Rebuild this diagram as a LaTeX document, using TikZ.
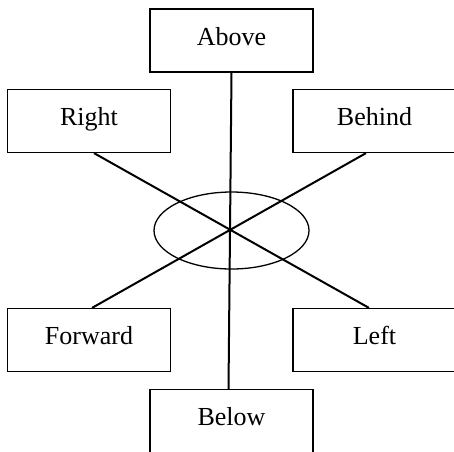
\documentclass[tikz,border=0pt]{standalone}
\usepackage{fontspec}
\setmainfont{Liberation Serif}
\begin{document}
\begin{tikzpicture}[x=1pt,y=-1pt,
  dirbox/.style={draw,line width=1.2pt,rectangle,inner sep=0pt,
    minimum width=163pt,text height=36pt,text depth=27pt,
    font=\fontsize{26}{30}\selectfont},
  axis/.style={line width=2pt}]
\useasboundingbox (0,0) rectangle (454,451);
\clip (0,0) rectangle (454,451);
\node[dirbox] (above) at (231.5,40.5) {Above};
\node[dirbox] (right) at (89,121) {Right};
\node[dirbox] (behind) at (374.5,121) {Behind};
\node[dirbox] (forward) at (89,340) {Forward};
\node[dirbox] (left) at (374.5,340) {Left};
\node[dirbox,text depth=37pt,anchor=north] (below) at (231.5,389) {Below};
\draw[line width=1.3pt] (231.5,230.5) ellipse [x radius=77.5pt, y radius=38.5pt];
\draw[axis] (above.south) -- ([xshift=-3pt]below.north);
\draw[axis] ([xshift=5pt]right.south) -- ([xshift=-5.5pt]left.north);
\draw[axis] ([xshift=-8.5pt]behind.south) -- ([xshift=3pt]forward.north);
\end{tikzpicture}
\end{document}
